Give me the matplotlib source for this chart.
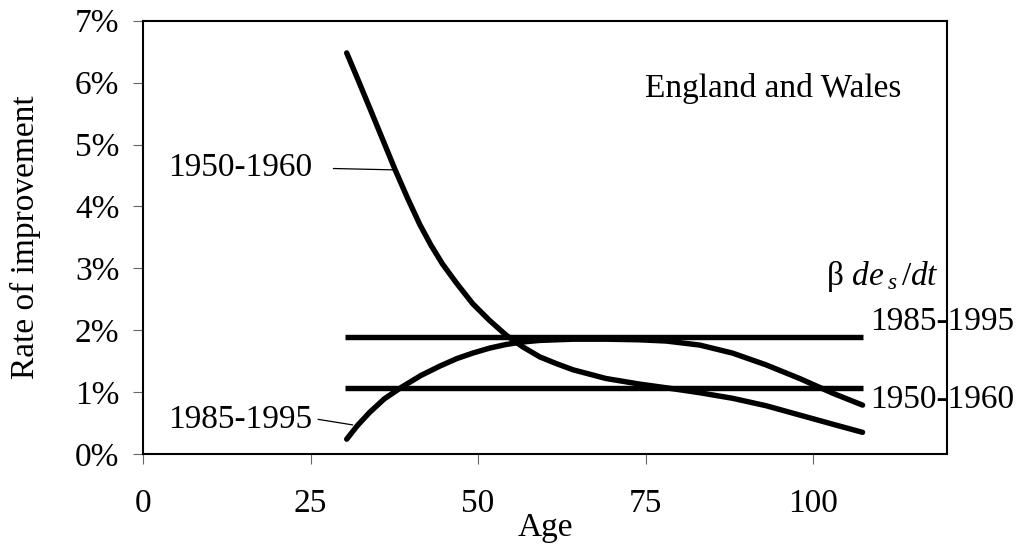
import matplotlib
matplotlib.use('Agg')
import matplotlib.pyplot as plt
from matplotlib.ticker import PercentFormatter

plt.rcParams['font.family'] = ['Liberation Serif', 'DejaVu Serif']
plt.rcParams['mathtext.fontset'] = 'custom'
plt.rcParams['mathtext.rm'] = 'Liberation Serif'
plt.rcParams['mathtext.it'] = 'Liberation Serif:italic'

# values (age, rate of improvement in %)
age_5060 = [30.4, 32.0, 33.8, 35.7, 37.6, 39.5, 41.3, 43.0, 44.7, 46.8, 49.2, 51.7,
            54.2, 56.7, 59.2, 61.7, 64.2, 69.1, 74.1, 78.1, 83.1, 88.0, 93.0,
            98.0, 103.0, 107.4]
rate_5060 = [6.48, 6.07, 5.6, 5.1, 4.6, 4.13, 3.71, 3.37, 3.07, 2.76, 2.43, 2.16,
             1.92, 1.73, 1.57, 1.46, 1.36, 1.22, 1.13, 1.07, 0.99, 0.9, 0.78,
             0.63, 0.48, 0.35]

age_8595 = [30.4, 32.0, 33.8, 36.0, 38.6, 41.5, 44.3, 46.8, 49.2, 51.7, 54.2,
            56.7, 59.2, 64.2, 69.1, 74.1, 78.1, 83.1, 88.0, 93.0, 98.0, 103.0,
            107.4]
rate_8595 = [0.24, 0.46, 0.67, 0.89, 1.08, 1.27, 1.42, 1.54, 1.63, 1.71, 1.77,
             1.81, 1.835, 1.855, 1.855, 1.845, 1.825, 1.76, 1.63, 1.44, 1.22,
             0.98, 0.79]

# beta de_s/dt levels
hline_ages = [30.1, 107.4]
beta_8595 = 1.895
beta_5060 = 1.06

xticks = [0, 25, 50, 75, 100]
yticks = [0, 1, 2, 3, 4, 5, 6, 7]

fig = plt.figure(figsize=(10.23, 5.48), dpi=100)
ax = fig.add_axes([0.1398, 0.1715, 0.7859, 0.7907])

lw = 3.9
ax.plot(age_5060, rate_5060, color='black', lw=lw, solid_capstyle='round', solid_joinstyle='round')
ax.plot(age_8595, rate_8595, color='black', lw=lw, solid_capstyle='round', solid_joinstyle='round')
ax.plot(hline_ages, [beta_8595, beta_8595], color='black', lw=lw, solid_capstyle='butt')
ax.plot(hline_ages, [beta_5060, beta_5060], color='black', lw=lw, solid_capstyle='butt')

ax.set_xlim(0, 120)
ax.set_ylim(0, 7)
ax.set_xticks(xticks)
ax.set_yticks(yticks)
ax.yaxis.set_major_formatter(PercentFormatter(decimals=0))

for s in ax.spines.values():
    s.set_linewidth(1.5)
ax.tick_params(direction='out', length=7, width=0.8, labelsize=24, color='#666666')
ax.tick_params(axis='x', pad=18)
ax.tick_params(axis='y', pad=10)

ax.set_ylabel('Rate of improvement', fontsize=24)
ax.yaxis.set_label_coords(-0.127, 0.5)
ax.set_xlabel('Age', fontsize=24)
ax.xaxis.set_label_coords(0.5, -0.136)

ax.text(94.0, 5.91, 'England and Wales', fontsize=24, ha='center', va='center')

# curve labels with leader lines
ax.annotate('1950-1960', xy=(37.6, 4.59), xytext=(25.3, 4.62), fontsize=24,
            ha='right', va='center',
            arrowprops=dict(arrowstyle='-', lw=0.9, color='black', relpos=(1, 0.5),
                            shrinkA=13, shrinkB=0))
ax.annotate('1985-1995', xy=(31.3, 0.47), xytext=(25.3, 0.55), fontsize=24,
            ha='right', va='center',
            arrowprops=dict(arrowstyle='-', lw=0.9, color='black', relpos=(1, 0.55),
                            shrinkA=2, shrinkB=0))

# right-hand labels for the beta de_s/dt lines
ax.text(118.8, 2.73, r'β $de\,{}_{s}\,/dt$', fontsize=24, ha='right', va='baseline')
ax.text(108.6, 2.13, '1985-1995', fontsize=24, ha='left', va='center', clip_on=False)
ax.text(108.6, 0.87, '1950-1960', fontsize=24, ha='left', va='center', clip_on=False)

fig.savefig('out.png', dpi=100)
